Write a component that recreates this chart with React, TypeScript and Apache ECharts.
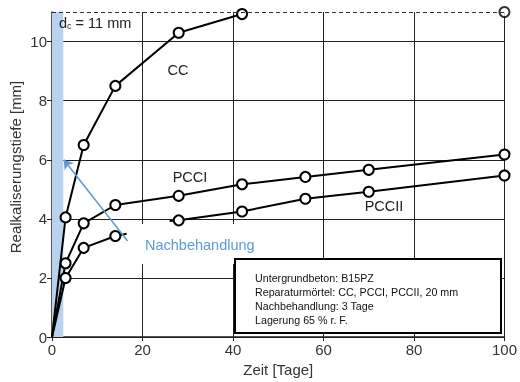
import React, { useEffect, useRef } from "react";
import * as echarts from "echarts";

const xTicks = [0, 20, 40, 60, 80, 100];
const yTicks = [0, 2, 4, 6, 8, 10];

const ccDays = [0, 3, 7, 14, 28, 42];
const ccDepth = [0, 4.05, 6.5, 8.5, 10.3, 10.93];
const ccLimitDays = [100];
const ccLimitDepth = [11];

const pcciDays = [0, 3, 7, 14, 28, 42, 56, 70, 100];
const pcciDepth = [0, 2.5, 3.85, 4.47, 4.78, 5.17, 5.42, 5.66, 6.18];

const pcciiDaysA = [0, 3, 7, 14, 16.5];
const pcciiDepthA = [0, 2.0, 3.02, 3.42, 3.5];
const pcciiDaysB = [26, 28, 42, 56, 70, 100];
const pcciiDepthB = [3.93, 3.95, 4.25, 4.68, 4.92, 5.47];

const dcLimit = 11;
const curingDays = [0, 2.5];
const arrowFrom = [16.7, 3.25];
const arrowTo = [2.6, 6.0];

const infoLines = [
  "Untergrundbeton: B15PZ",
  "Reparaturmörtel: CC, PCCI, PCCII, 20 mm",
  "Nachbehandlung: 3 Tage",
  "Lagerung 65 % r. F.",
];

const FONT = "Liberation Sans, Arial, sans-serif";
const TXT = "#333";
const BLUE = "#5b9bd5";

function pts(xs: number[], ys: number[], noSymbolIdx: number[] = []) {
  return xs.map((x, i) =>
    noSymbolIdx.includes(i) ? { value: [x, ys[i]], symbol: "none" } : [x, ys[i]]
  );
}

export default function App() {
  const ref = useRef<HTMLDivElement>(null);
  useEffect(() => {
    if (!ref.current) return;
    const chart = echarts.init(ref.current, undefined, { renderer: "svg" });
    const lineBase = {
      type: "line",
      symbol: "circle",
      symbolSize: 10,
      lineStyle: { color: "#000", width: 2, type: "solid" },
      itemStyle: { color: "#fff", borderColor: "#000", borderWidth: 2 },
      z: 3,
    };
    const pcciiData: any[] = [
      ...pts(pcciiDaysA, pcciiDepthA, [0, pcciiDaysA.length - 1]),
      ["-", "-"],
      ...pts(pcciiDaysB, pcciiDepthB, [0]),
    ];
    chart.setOption({
      animation: false,
      grid: { left: 52, right: 13, top: 12, bottom: 41 },
      xAxis: {
        type: "value",
        min: xTicks[0],
        max: xTicks[xTicks.length - 1],
        interval: 20,
        axisLine: { lineStyle: { color: "#222", width: 1.5 } },
        axisTick: { show: true, length: 4, lineStyle: { color: "#222" } },
        axisLabel: { color: TXT, fontSize: 15, fontFamily: FONT, margin: 5 },
        splitLine: { show: true, lineStyle: { color: "#222", width: 1, type: "solid" } },
        name: "Zeit [Tage]",
        nameLocation: "middle",
        nameGap: 21,
        nameTextStyle: { color: TXT, fontSize: 15, fontFamily: FONT },
      },
      yAxis: {
        type: "value",
        min: yTicks[0],
        max: dcLimit,
        interval: 2,
        axisLine: { show: true, lineStyle: { color: "#222", width: 1.5 } },
        axisTick: { show: true, length: 5, lineStyle: { color: "#222" } },
        axisLabel: { color: TXT, fontSize: 15, fontFamily: FONT, margin: 5, showMaxLabel: false },
        splitLine: { show: true, showMaxLine: false, lineStyle: { color: "#222", width: 1, type: "solid" } },
      },
      graphic: [
        {
          type: "rect",
          shape: { x: 128, y: 224, width: 134, height: 40 },
          style: { fill: "#fff" },
          z: 1,
        },
        {
          type: "text",
          x: 145,
          y: 245,
          style: {
            text: "Nachbehandlung",
            fill: BLUE,
            font: `14.5px ${FONT}`,
            verticalAlign: "middle",
          },
          z: 10,
        },
        {
          type: "text",
          x: 15,
          y: 167,
          rotation: Math.PI / 2,
          style: {
            text: "Realkaliserungstiefe [mm]",
            fill: TXT,
            font: `15px ${FONT}`,
            align: "center",
            verticalAlign: "middle",
          },
          z: 10,
        },
        {
          type: "text",
          x: 178,
          y: 70,
          style: { text: "CC", fill: "#222", font: `14.5px ${FONT}`, align: "center", verticalAlign: "middle" },
          z: 10,
        },
        {
          type: "text",
          x: 190,
          y: 177,
          style: { text: "PCCI", fill: "#222", font: `14.5px ${FONT}`, align: "center", verticalAlign: "middle" },
          z: 10,
        },
        {
          type: "text",
          x: 384,
          y: 206,
          style: { text: "PCCII", fill: "#222", font: `14.5px ${FONT}`, align: "center", verticalAlign: "middle" },
          z: 10,
        },
        {
          type: "text",
          x: 59,
          y: 23,
          style: {
            text: "{a|d}{b|c}{a| = 11 mm}",
            fill: "#222",
            verticalAlign: "middle",
            rich: {
              a: { fontSize: 14.5, fontFamily: FONT, fill: "#222" },
              b: { fontSize: 9, fontFamily: FONT, fill: "#222", padding: [6, 0, 0, 0] },
            },
          },
          z: 10,
        },
        {
          type: "rect",
          shape: { x: 235, y: 259, width: 266, height: 74 },
          style: { fill: "#fff", stroke: "#000", lineWidth: 2 },
          z: 10,
        },
        ...infoLines.map((t, i) => ({
          type: "text",
          x: 255,
          y: 278 + i * 14,
          style: { text: t, fill: "#111", font: `10.7px ${FONT}`, verticalAlign: "middle" },
          z: 11,
        })),
      ],
      series: [
        {
          ...lineBase,
          name: "CC",
          data: pts(ccDays, ccDepth, [0]),
          markArea: {
            silent: true,
            itemStyle: { color: "#b9d3ee", opacity: 1 },
            data: [[{ coord: [curingDays[0], 0] }, { coord: [curingDays[1], dcLimit] }]],
          },
          markLine: {
            silent: true,
            symbol: ["none", "none"],
            label: { show: false },
            lineStyle: { color: "#333", type: [4, 3], width: 1 },
            data: [{ yAxis: dcLimit }],
          },
        },
        {
          type: "scatter",
          name: "CC limit",
          symbol: "circle",
          symbolSize: 10,
          itemStyle: { color: "#fff", borderColor: "#000", borderWidth: 2 },
          z: 4,
          clip: false,
          data: pts(ccLimitDays, ccLimitDepth),
        },
        {
          ...lineBase,
          name: "PCCI",
          data: pts(pcciDays, pcciDepth, [0]),
        },
        {
          ...lineBase,
          name: "PCCII",
          data: pcciiData,
          markLine: {
            silent: true,
            symbol: ["none", "arrow"],
            symbolSize: 9,
            label: { show: false },
            lineStyle: { color: BLUE, type: "solid", width: 1.5 },
            data: [[{ coord: arrowFrom }, { coord: arrowTo }]],
          },
        },
      ],
    });
    return () => chart.dispose();
  }, []);
  return (
    <div
      ref={ref}
      style={{ position: "fixed", left: 0, top: 0, width: 520, height: 382 }}
    />
  );
}
